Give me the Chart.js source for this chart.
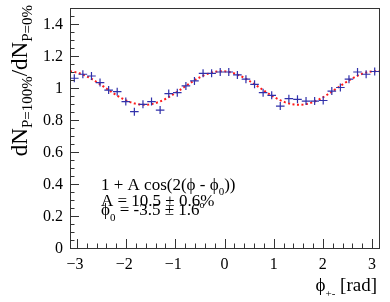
<!DOCTYPE html>
<html><head><meta charset="utf-8">
<script src="https://cdn.jsdelivr.net/npm/chart.js@4/dist/chart.umd.min.js"></script>
<style>html,body{margin:0;padding:0;background:#fff;}#wrap{width:390px;height:302px;}</style>
</head><body><div id="wrap"><canvas id="c" width="390" height="302"></canvas></div>
<script>
// bin centres (rad)
const phiCenters = [-3.054,-2.880,-2.705,-2.531,-2.356,-2.182,-2.007,-1.833,-1.658,-1.484,-1.309,-1.134,
  -0.960,-0.785,-0.611,-0.436,-0.262,-0.087,0.087,0.262,0.436,0.611,0.785,0.960,
  1.134,1.309,1.484,1.658,1.833,2.007,2.182,2.356,2.531,2.705,2.880,3.054];
const ratio = [1.061,1.086,1.075,1.034,0.987,0.977,0.915,0.852,0.898,0.915,0.862,0.965,
  0.971,1.013,1.044,1.092,1.092,1.100,1.100,1.082,1.055,1.023,0.971,0.954,
  0.887,0.933,0.929,0.918,0.918,0.922,0.981,1.003,1.055,1.100,1.086,1.103];
const ratioErr = [0.025,0.025,0.025,0.025,0.025,0.025,0.025,0.025,0.025,0.025,0.025,0.025,
  0.025,0.025,0.025,0.025,0.025,0.025,0.025,0.025,0.025,0.025,0.025,0.025,
  0.025,0.025,0.025,0.025,0.025,0.025,0.025,0.025,0.025,0.025,0.025,0.025];
const binHalfWidth = 0.0873;
// fit parameters shown in the legend
const fitA = 0.105;
const fitPhi0Deg = -3.5;
const xTicks = [-3,-2,-1,0,1,2,3];
const yTicks = [0,0.2,0.4,0.6,0.8,1,1.2,1.4];

const fitCurve = [];
for (let i = 0; i <= 200; i++) {
  const x = -Math.PI + 2*Math.PI*i/200;
  fitCurve.push({x, y: 1 + fitA*Math.cos(2*(x - fitPhi0Deg*Math.PI/180))});
}

const SERIF = '"Liberation Serif", "DejaVu Serif", serif';
const BLUE = '#3030aa';

function drawRich(ctx, parts, x, y) {
  for (const p of parts) {
    ctx.font = p.size + 'px ' + SERIF;
    ctx.fillText(p.t, x, y + (p.dy||0));
    x += ctx.measureText(p.t).width;
  }
  return x;
}
function richWidth(ctx, parts) {
  let w = 0;
  for (const p of parts) { ctx.font = p.size + 'px ' + SERIF; w += ctx.measureText(p.t).width; }
  return w;
}

const rootPlugin = {
  id: 'rootStyle',
  afterDatasetsDraw(chart) {
    const ctx = chart.ctx, xs = chart.scales.x, ys = chart.scales.y;
    ctx.save();
    ctx.strokeStyle = BLUE; ctx.lineWidth = 1.2;
    for (let i = 0; i < phiCenters.length; i++) {
      const px = xs.getPixelForValue(phiCenters[i]);
      const py = ys.getPixelForValue(ratio[i]);
      const x0 = xs.getPixelForValue(phiCenters[i]-binHalfWidth), x1 = xs.getPixelForValue(phiCenters[i]+binHalfWidth);
      const y0 = ys.getPixelForValue(ratio[i]-ratioErr[i]), y1 = ys.getPixelForValue(ratio[i]+ratioErr[i]);
      ctx.beginPath();
      ctx.moveTo(x0, py); ctx.lineTo(x1, py);
      ctx.moveTo(px, y0); ctx.lineTo(px, y1);
      ctx.stroke();
    }
    ctx.restore();
  },
  afterDraw(chart) {
    const ctx = chart.ctx, xs = chart.scales.x, ys = chart.scales.y, a = chart.chartArea;
    ctx.save();
    ctx.strokeStyle = '#333'; ctx.lineWidth = 1;
    ctx.strokeRect(Math.round(a.left)+0.5, Math.round(a.top)+0.5, Math.round(a.right-a.left), Math.round(a.bottom-a.top));
    ctx.beginPath();
    for (let v = 0; v <= 1.5001; v += 0.05) {
      const py = Math.round(ys.getPixelForValue(v)) + 0.5;
      const major = Math.abs(v/0.2 - Math.round(v/0.2)) < 1e-6;
      const len = major ? 9 : 4.5;
      ctx.moveTo(a.left, py); ctx.lineTo(a.left + len, py);
    }
    for (let k = -15; k <= 15; k++) {
      const v = k*0.2;
      const px = Math.round(xs.getPixelForValue(v)) + 0.5;
      const major = k % 5 === 0;
      const len = major ? 9 : 4.5;
      ctx.moveTo(px, a.bottom); ctx.lineTo(px, a.bottom - len);
    }
    ctx.stroke();
    ctx.fillStyle = '#000';
    ctx.font = '16px ' + SERIF;
    ctx.textAlign = 'right'; ctx.textBaseline = 'middle';
    for (const v of yTicks) {
      ctx.fillText(String(v), a.left - 7, ys.getPixelForValue(v) + 1);
    }
    ctx.textAlign = 'center'; ctx.textBaseline = 'middle';
    for (const v of xTicks) {
      ctx.fillText(v < 0 ? '\u2212' + Math.abs(v) : String(v), xs.getPixelForValue(v) + (v<0?-2:0), a.bottom + 17);
    }
    ctx.textAlign = 'left'; ctx.textBaseline = 'alphabetic';
    const xt = [{t:'\u03d5', size:19},{t:'+-', size:11, dy:6},{t:' [rad]', size:19}];
    const xw = richWidth(ctx, xt);
    drawRich(ctx, xt, 377 - xw, 291);
    const yt = [{t:'dN', size:23},{t:'P=100%', size:15, dy:5},{t:'/dN', size:23},{t:'P=0%', size:15, dy:5}];
    const yw = richWidth(ctx, yt);
    ctx.save();
    ctx.translate(27, 5 + yw);
    ctx.rotate(-Math.PI/2);
    drawRich(ctx, yt, 0, 0);
    ctx.restore();
    drawRich(ctx, [{t:'1 + A cos(2(\u03d5 - \u03d5', size:17},{t:'0', size:11, dy:5},{t:'))', size:17}], 101, 190);
    drawRich(ctx, [{t:'A = 10.5 \u00b1 0.6%', size:17}], 101, 206);
    drawRich(ctx, [{t:'\u03d5', size:17},{t:'0', size:11, dy:6},{t:' = -3.5 \u00b1 1.6', size:17},{t:'o', size:10, dy:-7}], 101, 215);
    ctx.restore();
  }
};

new Chart(document.getElementById('c'), {
  type: 'scatter',
  data: {
    datasets: [{
      type: 'line',
      data: fitCurve,
      borderColor: '#ff1a1a',
      borderWidth: 2,
      borderDash: [2, 2.5],
      pointRadius: 0,
      fill: false,
      tension: 0
    }, {
      data: phiCenters.map((x, i) => ({x, y: ratio[i]})),
      pointRadius: 0,
      showLine: false
    }]
  },
  options: {
    responsive: false,
    devicePixelRatio: 1,
    animation: false,
    layout: { padding: { left: 70, right: 11, top: 8, bottom: 54 } },
    plugins: { legend: { display: false }, tooltip: { enabled: false } },
    scales: {
      x: { type: 'linear', min: -Math.PI, max: Math.PI, display: false },
      y: { type: 'linear', min: 0, max: 1.5, display: false }
    }
  },
  plugins: [rootPlugin]
});
</script>
</body></html>
